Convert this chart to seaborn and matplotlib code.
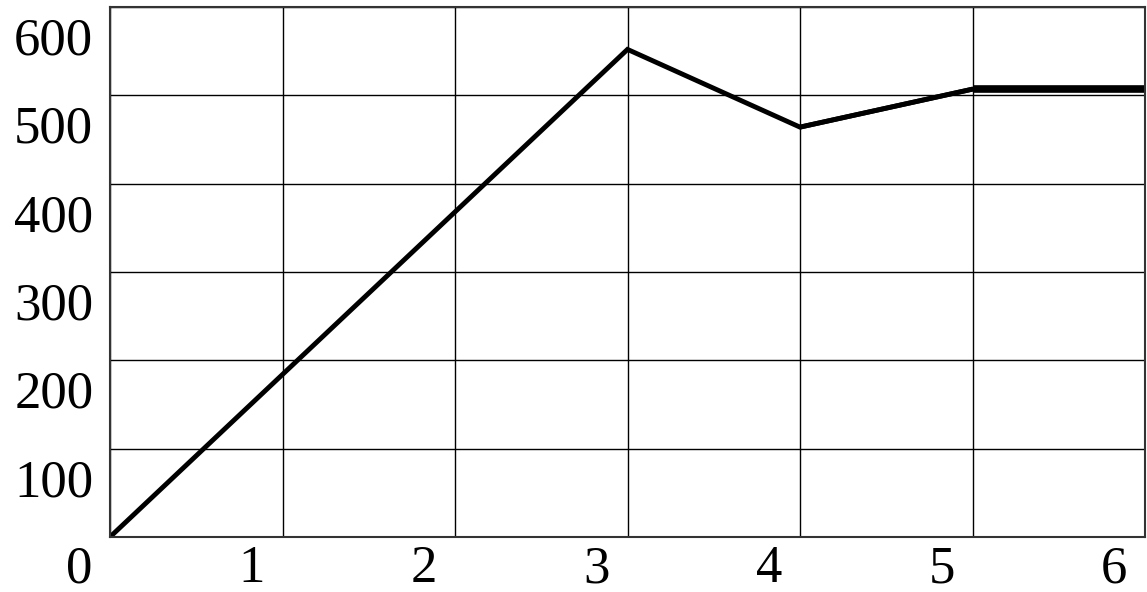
import matplotlib
matplotlib.use("Agg")
import matplotlib.pyplot as plt
from matplotlib.transforms import ScaledTranslation
import seaborn as sns
import pandas as pd

x_vals = [0, 3, 4, 5, 6]
y_vals = [0, 552, 464, 507, 507]
x_ticks = [0, 1, 2, 3, 4, 5, 6]
y_ticks = [0, 100, 200, 300, 400, 500, 600]
y_tick_labels = ["", "100", "200", "300", "400", "500", "600"]

sns.set_style("white")
plt.rcParams['font.family'] = ['Liberation Serif', 'DejaVu Serif']

fig = plt.figure(figsize=(11.47, 5.92), dpi=100)
ax = fig.add_axes([110/1147, 1 - 537/592, (1145-110)/1147, (537-7)/592])

df = pd.DataFrame({"x": x_vals, "y": y_vals})
sns.lineplot(data=df, x="x", y="y", ax=ax, color="black", linewidth=3.5,
             solid_joinstyle="miter", solid_capstyle="butt")
sns.lineplot(data=df.iloc[3:], x="x", y="y", ax=ax, color="black", linewidth=5.5,
             solid_capstyle="butt")
sns.lineplot(data=df.iloc[2:4], x="x", y="y", ax=ax, color="black", linewidth=3.5,
             solid_capstyle="butt")

ax.set_xlim(0, 6)
ax.set_ylim(0, 600)
ax.set_xticks(x_ticks)
ax.set_xticklabels([str(v) for v in x_ticks])
ax.set_yticks(y_ticks)
ax.set_yticklabels(y_tick_labels)
ax.set_xlabel("")
ax.set_ylabel("")
ax.grid(True, color="black", linewidth=1.0)
ax.set_axisbelow(True)
for s in ax.spines.values():
    s.set_color("#333333")
    s.set_linewidth(1.5)
ax.tick_params(axis="both", length=0, labelsize=38, colors="black")
ax.tick_params(axis="x", pad=6)
ax.tick_params(axis="y", pad=12)

for lab in ax.get_xticklabels():
    lab.set_transform(lab.get_transform() + ScaledTranslation(-31/100, 0, fig.dpi_scale_trans))
for lab in ax.get_yticklabels():
    lab.set_transform(lab.get_transform() + ScaledTranslation(0, -29/100, fig.dpi_scale_trans))

fig.savefig("out.png", dpi=100)
